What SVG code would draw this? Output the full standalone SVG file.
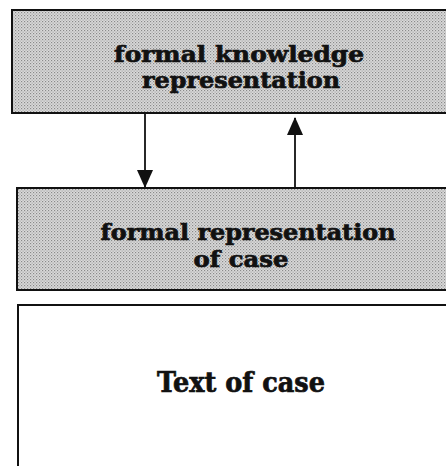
<svg xmlns="http://www.w3.org/2000/svg" width="446" height="466" viewBox="0 0 446 466">
<style>
.box{stroke:#111;stroke-width:2}
.shaded{fill:url(#dots)}
.lbl{font-family:"DejaVu Serif","Liberation Serif",serif;font-weight:bold;fill:#111;stroke:#111;stroke-width:0.7;text-anchor:middle}
.conn{stroke:#111;stroke-width:1.8;fill:none}
</style>
<defs>
<pattern id="dots" width="3" height="3" patternUnits="userSpaceOnUse">
<rect width="3" height="3" fill="#dadada"/>
<rect width="1.2" height="1.2" fill="#8a8a8a"/>
<rect x="1.5" y="1.5" width="1.2" height="1.2" fill="#a4a4a4"/>
</pattern>
<marker id="ah" viewBox="0 0 18 16" refX="17" refY="8" markerWidth="18" markerHeight="16" orient="auto" markerUnits="userSpaceOnUse">
<path d="M0,0 L18,8 L0,16 z" fill="#111"/>
</marker>
</defs>
<rect width="446" height="466" fill="#fff"/>
<g id="node-knowledge">
<rect class="box shaded" x="12" y="10" width="440" height="103"/>
<text class="lbl" x="239" y="62" font-size="23" textLength="250" lengthAdjust="spacingAndGlyphs">formal knowledge</text>
<text class="lbl" x="241" y="88" font-size="23" textLength="198" lengthAdjust="spacingAndGlyphs">representation</text>
</g>
<g id="node-case-rep">
<rect class="box shaded" x="17" y="188" width="435" height="102"/>
<text class="lbl" x="248" y="240" font-size="23" textLength="295" lengthAdjust="spacingAndGlyphs">formal representation</text>
<text class="lbl" x="241" y="267" font-size="23" textLength="95" lengthAdjust="spacingAndGlyphs">of case</text>
</g>
<g id="node-text">
<rect class="box" x="18" y="305" width="434" height="170" fill="#fff"/>
<text class="lbl" x="241" y="392" font-size="27" textLength="168" lengthAdjust="spacingAndGlyphs">Text of case</text>
</g>
<g id="connectors">
<line class="conn" x1="145" y1="113" x2="145" y2="187" marker-end="url(#ah)"/>
<line class="conn" x1="295" y1="188" x2="295" y2="118" marker-end="url(#ah)"/>
</g>
</svg>
